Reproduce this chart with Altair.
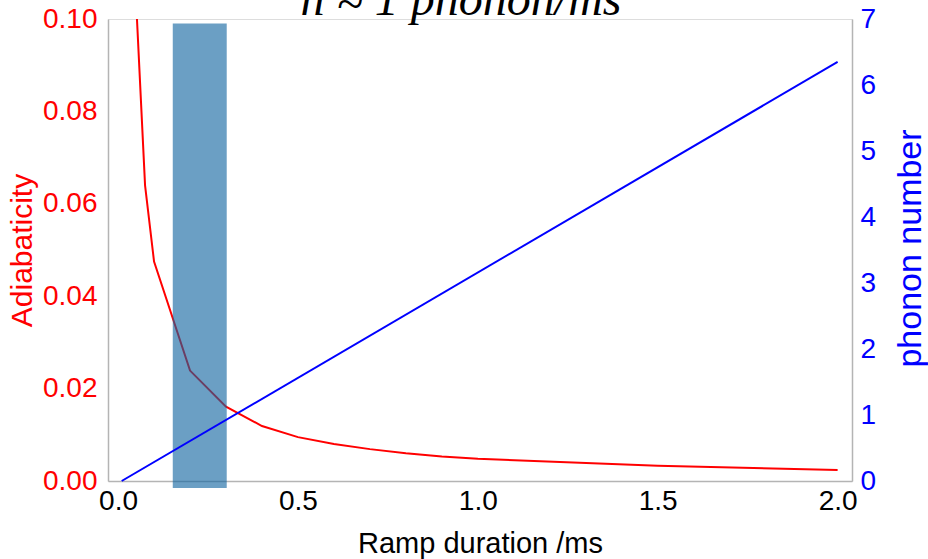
import altair as alt
import pandas as pd

# --- data ---
t_adi = [0.04, 0.075, 0.1, 0.2, 0.3, 0.4, 0.5, 0.6, 0.7, 0.8, 0.9, 1.0, 1.5, 2.0]
adiabaticity = [0.12, 0.064, 0.0475, 0.0239, 0.0161, 0.0119, 0.0095, 0.0080,
                0.0069, 0.0060, 0.0053, 0.0048, 0.0033, 0.0024]

t_phonon = [0.01, 2.0]
phonon = [0.0, 6.35]

band_start = [0.152]
band_end = [0.302]
band_top = [0.099]
band_bottom = [-0.0015]

title_text = ["n\u0304 \u2248 1 phonon/ms"]
x_ticks = [0.0, 0.5, 1.0, 1.5, 2.0]
y_left_ticks = [0.0, 0.02, 0.04, 0.06, 0.08, 0.10]
y_right_ticks = [0, 1, 2, 3, 4, 5, 6, 7]

adi_df = pd.DataFrame({"t": t_adi, "a": adiabaticity})
ph_df = pd.DataFrame({"t": t_phonon, "n": phonon})
band_df = pd.DataFrame({"x": band_start, "x2": band_end, "y": band_top, "y2": band_bottom})
title_df = pd.DataFrame({"label": title_text})

FONT = "Liberation Sans"
GRAY = "#b4b4b4"
xscale = alt.Scale(domain=[-0.028, 2.04], nice=False, zero=False)
xaxis = alt.Axis(values=x_ticks, format=".1f", title="Ramp duration /ms",
                 labelFontSize=28, labelColor="black", labelFont=FONT,
                 labelPadding=6, ticks=False, grid=False,
                 domainColor=GRAY, domainWidth=1.5,
                 titleFontSize=29, titleFont=FONT, titleFontWeight="normal",
                 titleColor="black", titleY=62, titleBaseline="middle")
yleft_scale = alt.Scale(domain=[0, 0.1], nice=False, zero=False)

red = alt.Chart(adi_df).mark_line(color="#ff0000", strokeWidth=2, clip=True).encode(
    x=alt.X("t:Q", scale=xscale, axis=xaxis),
    y=alt.Y("a:Q", scale=yleft_scale,
            axis=alt.Axis(orient="left", values=y_left_ticks, format=".2f",
                          title="Adiabaticity", labelFontSize=28, labelFont=FONT,
                          labelColor="#ff0000", labelPadding=11, ticks=False,
                          grid=False, domainColor=GRAY, domainWidth=1.5,
                          titleFontSize=30, titleFont=FONT, titleFontWeight="normal",
                          titleColor="#ff0000", titleX=-86, titleY=231,
                          titleAngle=270, titleAlign="center", titleBaseline="middle")),
)

band = alt.Chart(band_df).mark_rect(color="#10649f", opacity=0.62).encode(
    x=alt.X("x:Q", scale=xscale, axis=xaxis),
    x2="x2:Q",
    y=alt.Y("y:Q", scale=yleft_scale, axis=None),
    y2="y2:Q",
)

blue = alt.Chart(ph_df).mark_line(color="#0000ff", strokeWidth=2).encode(
    x=alt.X("t:Q", scale=xscale, axis=xaxis),
    y=alt.Y("n:Q", scale=alt.Scale(domain=[0, 7], nice=False),
            axis=alt.Axis(orient="right", values=y_right_ticks, format="d",
                          title="phonon number", labelFontSize=28, labelFont=FONT,
                          labelColor="#0000ff", labelPadding=8, ticks=False,
                          grid=False, domainColor=GRAY, domainWidth=1.5,
                          titleFontSize=34, titleFont=FONT, titleFontWeight="normal",
                          titleColor="#0000ff", titleX=58, titleY=229,
                          titleAngle=270, titleAlign="center", titleBaseline="middle")),
)

title = alt.Chart(title_df).mark_text(
    font="Liberation Serif", fontStyle="italic", fontSize=48, color="black",
    align="center", baseline="alphabetic"
).encode(
    text="label:N",
    x=alt.value(353),
    y=alt.value(-4),
)

chart = alt.layer(red, band, blue, title).resolve_scale(y="independent").properties(
    width=744, height=462,
    autosize=alt.AutoSizeParams(type="none"),
    padding={"left": 108, "top": 19, "right": 76, "bottom": 78},
).configure_view(stroke=GRAY, strokeWidth=1.5).configure(background="white")

chart.save("out.html", embed_options={"renderer": "svg", "actions": False})
